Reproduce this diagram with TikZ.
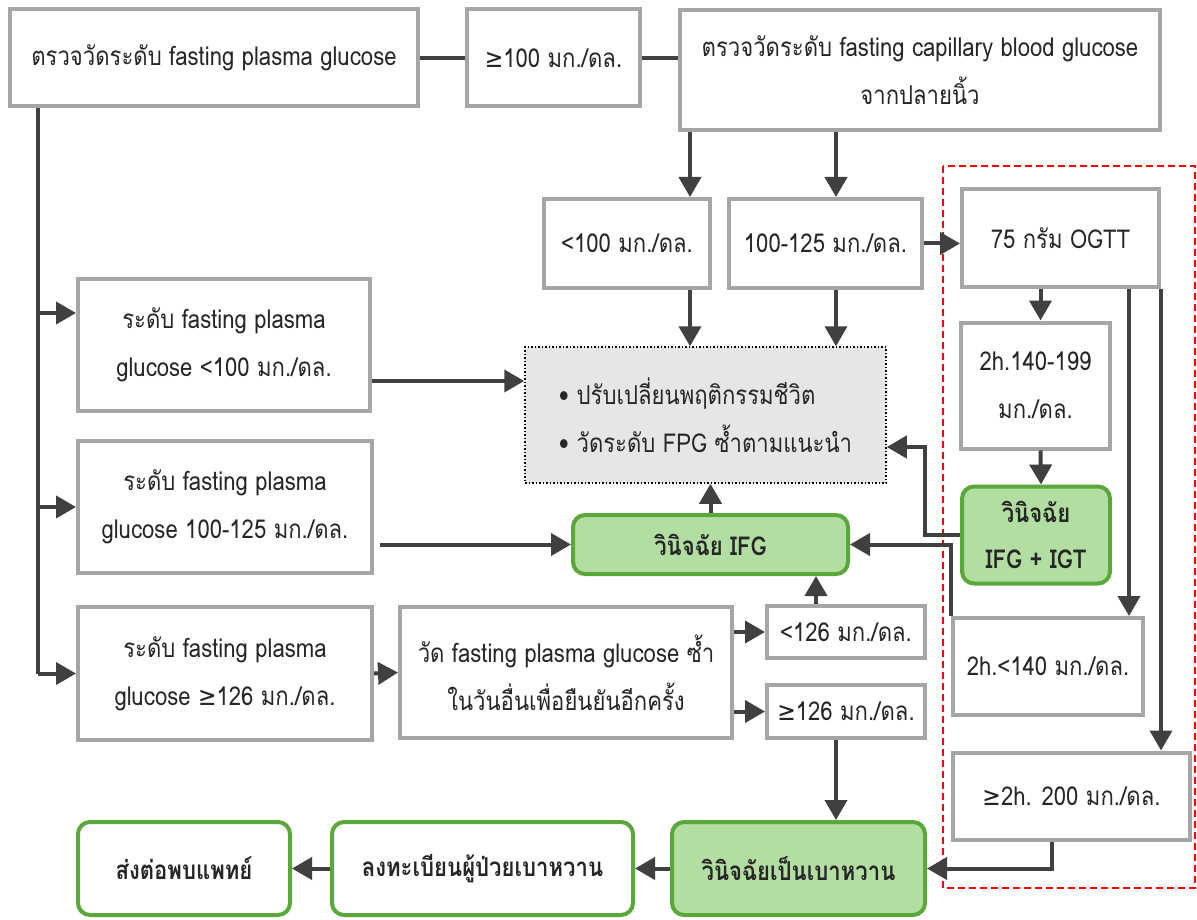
\documentclass[tikz,border=0pt]{standalone}
\usepackage{fontspec}
\setmainfont[Script=Thai,FakeStretch=0.85]{Loma}
\newfontfamily\symf[FakeStretch=0.85]{DejaVu Sans}
\newcommand\gsym{{\symf ≥}}
\usetikzlibrary{arrows.meta}
\definecolor{boxgray}{HTML}{A6A6A6}
\definecolor{arrc}{HTML}{404040}
\definecolor{txtc}{HTML}{262626}
\definecolor{gborder}{HTML}{5AA83A}
\definecolor{gfill}{HTML}{B2DEA2}
\definecolor{kfill}{HTML}{E6E6E6}
\tikzset{
  txt/.style={font=\fontsize{26}{48}\selectfont, text=txtc, align=center, inner sep=0pt},
  gbox/.style={txt, draw=boxgray, line width=4pt, fill=white},
  grbox/.style={txt, draw=gborder, line width=4pt, fill=gfill, rounded corners=12pt, font=\fontsize{26}{46}\selectfont\bfseries},
  wgbox/.style={grbox, fill=white},
  ln/.style={draw=arrc, line width=4pt},
  arr/.style={ln, -{Triangle[length=20pt,width=22pt]}},
}
\begin{document}
\begin{tikzpicture}[x=1pt,y=-1pt]
\useasboundingbox (0,0) rectangle (1197,920);
% red dashed group
\draw[red, line width=1.3pt, dash pattern=on 7pt off 4pt] (943,166) rectangle (1195,888);
% nodes
\node[gbox, minimum width=408, minimum height=97] (A) at (214,58) {ตรวจวัดระดับ fasting plasma glucose};
\node[gbox, minimum width=173, minimum height=97] (B) at (553.5,58) {\gsym100 มก./ดล.};
\node[gbox, minimum width=480, minimum height=120] (C) at (920,70) {ตรวจวัดระดับ fasting capillary blood glucose\\จากปลายนิ้ว};
\node[gbox, minimum width=166, minimum height=89] (D) at (627,243.5) {<100 มก./ดล.};
\node[gbox, minimum width=193, minimum height=89] (E) at (825.5,243.5) {100-125 มก./ดล.};
\node[gbox, minimum width=197, minimum height=98] (F) at (1060.5,238) {75 กรัม OGTT};
\node[gbox, minimum width=149, minimum height=126] (G) at (1035.5,385.5) {2h.140-199\\มก./ดล.};
\node[grbox, minimum width=148, minimum height=97] (H) at (1036,535) {วินิจฉัย\\IFG + IGT};
\node[gbox, minimum width=190, minimum height=97] (I) at (1048,666.5) {2h.<140 มก./ดล.};
\node[gbox, minimum width=237, minimum height=87] (J) at (1071.5,796) {\gsym2h. 200 มก./ดล.};
\node[txt, draw=black, dotted, line width=1.5pt, fill=kfill, minimum width=361, minimum height=136, align=left] (K) at (705.5,415) {• ปรับเปลี่ยนพฤติกรรมชีวิต\\• วัดระดับ FPG ซ้ำตามแนะนำ};
\node[gbox, minimum width=292, minimum height=132] (L1) at (224,345) {ระดับ fasting plasma\\glucose <100 มก./ดล.};
\node[gbox, minimum width=294, minimum height=132] (L2) at (225,507) {ระดับ fasting plasma\\glucose 100-125 มก./ดล.};
\node[gbox, minimum width=294, minimum height=133] (L3) at (225,673.5) {ระดับ fasting plasma\\glucose \gsym126 มก./ดล.};
\node[grbox, minimum width=275, minimum height=59] (M) at (710.5,544.5) {วินิจฉัย IFG};
\node[gbox, minimum width=332, minimum height=131] (N) at (566,672.5) {วัด fasting plasma glucose ซ้ำ\\ในวันอื่นเพื่อยืนยันอีกครั้ง};
\node[gbox, minimum width=158, minimum height=52] (O) at (846,632) {<126 มก./ดล.};
\node[gbox, minimum width=158, minimum height=53] (P) at (846,711.5) {\gsym126 มก./ดล.};
\node[wgbox, minimum width=212, minimum height=93] (Q) at (184,868.5) {ส่งต่อพบแพทย์};
\node[wgbox, minimum width=301, minimum height=93] (R) at (482.5,868.5) {ลงทะเบียนผู้ป่วยเบาหวาน};
\node[grbox, minimum width=253, minimum height=93] (S) at (798.5,868.5) {วินิจฉัยเป็นเบาหวาน};
% coordinates
\coordinate (sp) at ([xshift=30pt]A.south west);
\coordinate (l1in) at ([yshift=32pt]L1.west);
\coordinate (l1out) at ([yshift=-36pt]L1.east);
% connectors
\draw[ln] (A.east) -- (B.west);
\draw[ln] (B.east) -- (C.west |- B.east);
\draw[ln] (sp) -- (sp |- L3.west);
\draw[arr] (sp |- l1in) -- (l1in);
\draw[arr] (sp |- L2.west) -- (L2.west);
\draw[arr] (sp |- L3.west) -- (L3.west);
\draw[arr] ([xshift=63pt]D.north |- C.south) -- ([xshift=63pt]D.north);
\draw[arr] ([xshift=10.5pt]E.north |- C.south) -- ([xshift=10.5pt]E.north);
\draw[arr] ([xshift=63pt]D.south) -- ([xshift=63pt]D.south |- K.north);
\draw[arr] ([xshift=10.5pt]E.south) -- ([xshift=10.5pt]E.south |- K.north);
\draw[arr] (E.east) -- (F.west |- E.east);
\draw[arr] ([xshift=5pt]G.north |- F.south) -- ([xshift=5pt]G.north);
\draw[arr] ([xshift=5pt]G.south) -- ([xshift=5pt]H.north);
\draw[arr] ([xshift=81pt]I.north |- F.south) -- ([xshift=81pt]I.north);
\draw[arr] (F.south east) -- (F.south east |- J.north);
\draw[arr] (H.west) -- ++(-35,0) |- ([yshift=-32pt]K.east);
\draw[arr] (I.north west) |- (M.east);
\draw[arr] (l1out) -- (l1out -| K.west);
\draw[arr] ([xshift=6pt]L2.east |- M.west) -- (M.west);
\draw[arr] (L3.east) -- (N.west);
\draw[arr] (N.east |- O.west) -- (O.west);
\draw[arr] (N.east |- P.west) -- (P.west);
\draw[arr] ([xshift=-30pt]O.north) -- ([xshift=-30pt]O.north |- M.south);
\draw[arr] (M.north) -- (M.north |- K.south);
\draw[arr] ([xshift=-10pt]P.south) -- ([xshift=-10pt]P.south |- S.north);
\draw[arr] ([xshift=-20pt]J.south) |- (S.east);
\draw[arr] (S.west) -- (R.east);
\draw[arr] (R.west) -- (Q.east);
\end{tikzpicture}
\end{document}
